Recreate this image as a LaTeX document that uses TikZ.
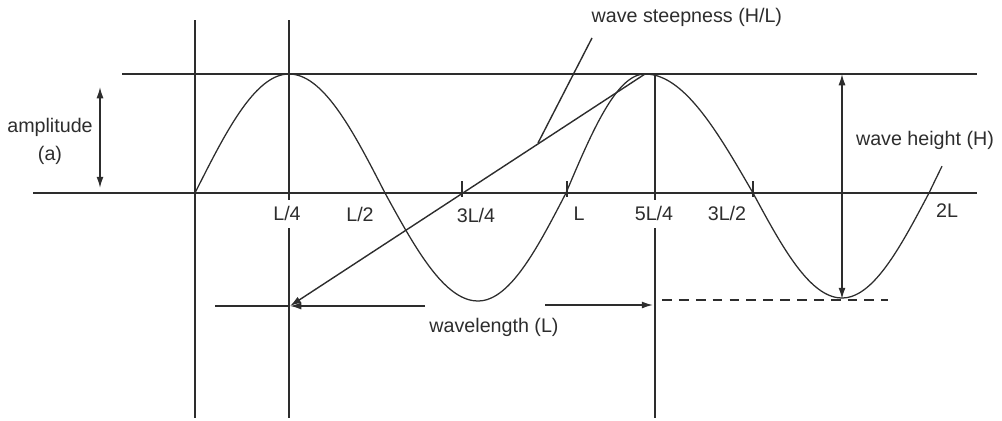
\documentclass[tikz,border=0pt]{standalone}
\usepackage{fontspec}
\setmainfont{Liberation Sans}
\usetikzlibrary{arrows.meta}
\definecolor{Ink}{RGB}{45,45,45}
\tikzset{
  guide/.style={Ink,line width=1pt},
  wave/.style={Ink,line width=0.9pt},
  tick/.style={Ink,line width=1pt},
  dimarr/.style={Ink,line width=1pt,-{Latex[length=8pt,width=5pt]}},
  dimboth/.style={Ink,line width=1pt,{Latex[length=8pt,width=5pt]}-{Latex[length=8pt,width=5pt]}},
  trough/.style={Ink,line width=1pt,dash pattern=on 7pt off 5pt},
  lbl/.style={font=\fontsize{14}{16}\selectfont,text=Ink,inner sep=1pt},
}

\begin{document}
\begin{tikzpicture}[x=0.025cm,y=-0.025cm]
  \useasboundingbox (0,0) rectangle (1002,421);

  % key points
  \coordinate (crestL) at (122,74);
  \coordinate (crestR) at (977,74);
  \coordinate (swlL) at (33,193);
  \coordinate (swlR) at (977,193);
  \coordinate (vzTop) at (195,20);
  \coordinate (vzBot) at (195,418);
  \coordinate (vqTop) at (289,20);
  \coordinate (vqMid) at (289,200);
  \coordinate (vqLow) at (289,228);
  \coordinate (vqBot) at (289,418);
  \coordinate (vfTop) at (655,74);
  \coordinate (vfMid) at (655,200);
  \coordinate (vfLow) at (655,228);
  \coordinate (vfBot) at (655,418);
  \coordinate (peak) at (645,74);
  \coordinate (wlA) at (215,306);
  \coordinate (wlB) at (290,306);
  \coordinate (wlC) at (425,306);
  \coordinate (wlD) at (545,305);
  \coordinate (wlE) at (653,305);
  \coordinate (dashA) at (662,300);
  \coordinate (dashB) at (888,300);
  \coordinate (ampTop) at (100,87);
  \coordinate (ampBot) at (100,188);
  \coordinate (hTop) at (842,74);
  \coordinate (hBot) at (842,299);
  \coordinate (ptrA) at (592,38);
  \coordinate (ptrB) at (538,143);

  % reference lines
  \draw[guide] (crestL) -- (crestR);
  \draw[guide] (swlL) -- (swlR);
  \draw[guide] (vzTop) -- (vzBot);
  \draw[guide] (vqTop) -- (vqMid);
  \draw[guide] (vqLow) -- (vqBot);
  \draw[guide] (vfTop) -- (vfMid);
  \draw[guide] (vfLow) -- (vfBot);

  % the wave, quarter by quarter
  \foreach \xa/\xb/\ph/\amp/\dom in {195/289/0/119/90, 289/385/90/119/90,
      385/478/180/108/90, 478/566/270/108/90, 566/645/0/119/90,
      645/753/90/119/90, 753/842/180/105/90, 842/929/270/105/90,
      929/1019/0/119/13}
    \draw[wave] plot[domain=0:\dom,samples=20,smooth]
      ({\xa+(\xb-\xa)*\x/90},{193-\amp*sin(\ph+\x)});

  % ticks
  \foreach \tx in {462,567,753}
    \draw[tick] (\tx,181) -- (\tx,197);

  % arrows
  \draw[dimboth] (ampTop) -- (ampBot);
  \draw[dimboth] (hTop) -- (hBot);
  \draw[dimarr] (peak) -- (wlB);
  \draw[guide] (wlA) -- (wlB);
  \draw[dimarr] (wlC) -- (wlB);
  \draw[dimarr] (wlD) -- (wlE);
  \draw[trough] (dashA) -- (dashB);
  \draw[guide] (ptrA) -- (ptrB);

  % labels
  \node[lbl] (lq) at (287,213) {L/4};
  \node[lbl] (lh) at (360,214) {L/2};
  \node[lbl] (ltq) at (476,215) {3L/4};
  \node[lbl] (lone) at (579,214) {L};
  \node[lbl] (lfq) at (654,213) {5L/4};
  \node[lbl] (lth) at (727,213) {3L/2};
  \node[lbl] (ltwo) at (947,211) {2L};
  \node[lbl] (amp) at (50,127) {amplitude};
  \node[lbl] (ampa) at (50,155) {(a)};
  \node[lbl] (height) at (925,140) {wave height (H)};
  \node[lbl,anchor=west] (steep) at (590,17) {wave steepness (H/L)};
  \node[lbl] (wlen) at (494,327) {wavelength (L)};
\end{tikzpicture}
\end{document}
